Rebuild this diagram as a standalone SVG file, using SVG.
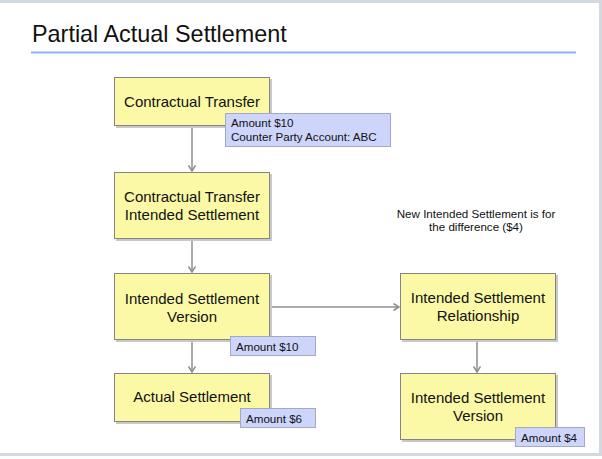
<svg xmlns="http://www.w3.org/2000/svg" width="602" height="459" viewBox="0 0 602 459">
<style>
.frame{fill:#d3d9e3}
.box{fill:#fbf9a6;stroke:#858585;stroke-width:1}
.shadow{fill:#c8c8c8}
.note{fill:#cdd5fb;stroke:#a3a9c4;stroke-width:1}
.t{font-family:"Liberation Sans",Arial,sans-serif;font-size:15px;fill:#111;text-anchor:middle}
.n{font-family:"Liberation Sans",Arial,sans-serif;font-size:11.6px;fill:#111}
.c{fill:none;stroke:#8e8e8e;stroke-width:1.5}
</style>
<defs>
<marker id="arr" markerWidth="10" markerHeight="10" refX="6" refY="4" orient="auto" markerUnits="userSpaceOnUse">
<path d="M0.5,0.5 L6,4 L0.5,7.5" fill="none" stroke="#8e8e8e" stroke-width="1.5"/>
</marker>
</defs>
<rect width="602" height="459" fill="#ffffff"/>
<rect class="frame" x="0" y="0" width="602" height="3"/>
<rect class="frame" x="599" y="0" width="3" height="456"/>
<rect class="frame" x="0" y="453" width="602" height="3"/>
<text x="32" y="42" font-family="'Liberation Sans',Arial,sans-serif" font-size="23.4" fill="#111">Partial Actual Settlement</text>
<rect x="31" y="51.5" width="545" height="2" fill="#8fb1f6"/>
<g id="connectors">
<line class="c" x1="192" y1="126" x2="192" y2="171" marker-end="url(#arr)"/>
<line class="c" x1="192" y1="239" x2="192" y2="272" marker-end="url(#arr)"/>
<line class="c" x1="192" y1="340" x2="192" y2="372" marker-end="url(#arr)"/>
<line class="c" x1="270" y1="307" x2="399" y2="307" marker-end="url(#arr)"/>
<line class="c" x1="477" y1="340" x2="477" y2="372" marker-end="url(#arr)"/>
</g>
<g id="ct">
<rect class="shadow" x="116" y="79" width="156" height="49"/>
<rect class="box" x="114.5" y="77.5" width="155" height="48"/>
<text class="t" x="192" y="107">Contractual Transfer</text>
</g>
<g id="ctis">
<rect class="shadow" x="116" y="174" width="156" height="67"/>
<rect class="box" x="114.5" y="172.5" width="155" height="66"/>
<text class="t" x="192" y="202">Contractual Transfer</text>
<text class="t" x="192" y="220">Intended Settlement</text>
</g>
<g id="isv">
<rect class="shadow" x="116" y="275" width="156" height="67"/>
<rect class="box" x="114.5" y="273.5" width="155" height="66"/>
<text class="t" x="192" y="304">Intended Settlement</text>
<text class="t" x="192" y="322">Version</text>
</g>
<g id="as">
<rect class="shadow" x="116" y="375" width="156" height="49"/>
<rect class="box" x="114.5" y="373.5" width="155" height="48"/>
<text class="t" x="192" y="402">Actual Settlement</text>
</g>
<g id="isr">
<rect class="shadow" x="402" y="275" width="156" height="67"/>
<rect class="box" x="400.5" y="273.5" width="155" height="66"/>
<text class="t" x="478" y="303">Intended Settlement</text>
<text class="t" x="478" y="321">Relationship</text>
</g>
<g id="isv2">
<rect class="shadow" x="402" y="375" width="156" height="67"/>
<rect class="box" x="400.5" y="373.5" width="155" height="66"/>
<text class="t" x="478" y="403">Intended Settlement</text>
<text class="t" x="478" y="421">Version</text>
</g>
<g id="note1">
<rect class="note" x="225.5" y="113.5" width="165" height="33"/>
<text class="n" x="231" y="127">Amount $10</text>
<text class="n" x="231" y="141">Counter Party Account: ABC</text>
</g>
<g id="note2">
<rect class="note" x="230.5" y="336.5" width="85" height="19"/>
<text class="n" x="236" y="351">Amount $10</text>
</g>
<g id="note3">
<rect class="note" x="240.5" y="408.5" width="75" height="19"/>
<text class="n" x="246" y="423">Amount $6</text>
</g>
<g id="note4">
<rect class="note" x="515.5" y="427.5" width="69" height="19"/>
<text class="n" x="521" y="442">Amount $4</text>
</g>
<g id="label">
<text class="n" x="476" y="218" text-anchor="middle">New Intended Settlement is for</text>
<text class="n" x="476" y="231" text-anchor="middle">the difference ($4)</text>
</g>
</svg>
